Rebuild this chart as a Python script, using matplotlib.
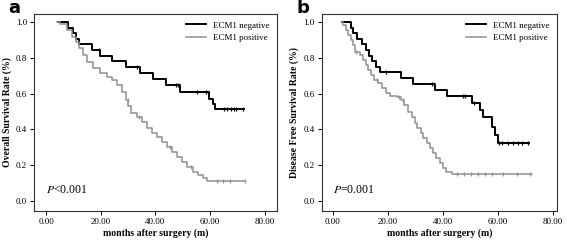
import matplotlib
matplotlib.use("Agg")
import matplotlib.pyplot as plt
import numpy as np

plt.rcParams['font.family'] = ['Liberation Serif', 'DejaVu Serif']
plt.rcParams['mathtext.fontset'] = 'stix'

# panel a: overall survival
a_neg_t = [0, 4.3, 8.1, 9.7, 11.0, 12.2, 16.7, 19.7, 24.0, 29.2, 34.3, 39.0, 43.8, 48.9, 59.7, 60.9, 61.7, 72.5]
a_neg_s = [1.0, 1.0, 0.968, 0.937, 0.906, 0.875, 0.844, 0.812, 0.78, 0.748, 0.716, 0.682, 0.648, 0.608, 0.57, 0.54, 0.512, 0.512]
a_neg_cens = [19.4, 33.1, 47.4, 48.1, 55.0, 58.6, 65.0, 66.2, 67.5, 68.7, 69.4, 71.9]

a_pos_t = [0, 4.1, 5.1, 7.5, 9.4, 11.0, 12.2, 13.6, 15.1, 17.3, 19.7, 22.2, 24.0, 25.8, 27.6, 29.2,
           30.1, 30.9, 33.1, 34.9, 36.8, 38.6, 40.4, 42.3, 44.1, 45.9, 47.7, 49.6, 51.4, 53.6, 55.6,
           57.5, 58.7, 72.7]
a_pos_s = [1.0, 1.0, 0.99, 0.955, 0.918, 0.89, 0.853, 0.816, 0.778, 0.741, 0.713, 0.691, 0.676, 0.648,
           0.61, 0.564, 0.531, 0.49, 0.471, 0.443, 0.406, 0.382, 0.36, 0.331, 0.304, 0.276, 0.248,
           0.22, 0.192, 0.164, 0.145, 0.127, 0.112, 0.112]
a_pos_cens = [29.8, 33.8, 45.2, 52.8, 62.3, 64.5, 67.2, 72.7]

# panel b: disease free survival
b_neg_t = [0, 3.3, 6.7, 7.5, 8.7, 10.5, 12.1, 13.3, 14.4, 15.6, 17.2, 24.7, 29.3, 37.2, 41.5, 50.5,
           53.6, 54.8, 57.8, 59.0, 60.2, 71.5]
b_neg_s = [1.0, 1.0, 0.968, 0.937, 0.905, 0.875, 0.842, 0.81, 0.78, 0.75, 0.72, 0.69, 0.655, 0.62,
           0.585, 0.545, 0.508, 0.468, 0.415, 0.369, 0.326, 0.326]
b_neg_cens = [19.4, 36.2, 47.3, 48.1, 51.4, 60.6, 61.5, 63.9, 65.7, 67.5, 68.7, 71.1]

b_pos_t = [0, 3.3, 3.9, 4.8, 5.7, 6.7, 7.5, 8.1, 9.9, 11.2, 12.1, 13.0, 13.8, 15.0, 16.6, 17.8, 19.4,
           20.8, 23.3, 24.7, 25.9, 27.5, 28.7, 29.9, 30.8, 32.0, 33.0, 34.2, 35.4, 36.6, 37.6, 39.0,
           40.0, 41.2, 43.3, 72.4]
b_pos_s = [1.0, 1.0, 0.983, 0.955, 0.927, 0.9, 0.872, 0.834, 0.816, 0.788, 0.76, 0.732, 0.704, 0.676,
           0.657, 0.629, 0.605, 0.587, 0.579, 0.564, 0.536, 0.499, 0.471, 0.434, 0.406, 0.378, 0.35,
           0.322, 0.294, 0.266, 0.238, 0.21, 0.182, 0.164, 0.151, 0.151]
b_pos_cens = [8.6, 16.0, 24.2, 25.4, 45.1, 47.7, 50.2, 52.9, 55.4, 57.8, 62.0, 66.9, 71.7]

xticks = [0, 20, 40, 60, 80]
yticks = [0.0, 0.2, 0.4, 0.6, 0.8, 1.0]


def level_at(times, levels, x):
    i = np.searchsorted(times, x, side='right') - 1
    return np.array(levels)[i]


def km_panel(ax, neg, pos, xlim, ylabel, ptext, letter):
    for (t, s, c), col, lw, lab in [(neg, 'black', 1.4, 'ECM1 negative'),
                                    (pos, '#909090', 1.1, 'ECM1 positive')]:
        ax.step(t[1:], s[1:], where='post', color=col, lw=lw, label=lab)
        ax.plot(c, level_at(t, s, c), ls='none', marker='|', ms=3.5, mew=0.9, color=col)
    ax.set_xlim(*xlim)
    ax.set_ylim(-0.056, 1.045)
    ax.set_xticks(xticks)
    ax.set_xticklabels(['%.2f' % v for v in xticks], fontsize=6.5)
    ax.set_yticks(yticks)
    ax.set_yticklabels(['%.1f' % v for v in yticks], fontsize=6.5)
    ax.tick_params(length=3, width=0.7, pad=2, top=False, right=False)
    for sp in ax.spines.values():
        sp.set_linewidth(0.8)
        sp.set_color('#333333')
    ax.set_xlabel('months after surgery (m)', fontsize=7, fontweight='bold', labelpad=2)
    ax.set_ylabel(ylabel, fontsize=7, fontweight='bold', labelpad=3)
    ax.legend(loc='upper right', frameon=False, fontsize=6.5, handlelength=2.2,
              borderaxespad=0.4, labelspacing=0.5)
    ax.text(0.05, 0.09, ptext, transform=ax.transAxes, fontsize=8.5)
    ax.figure.text(ax.get_position().x0 - 0.045, 0.965, letter, fontsize=13,
                   fontweight='bold', family='DejaVu Sans', ha='left', va='center')


fig = plt.figure(figsize=(5.67, 2.41), dpi=100)
ax1 = fig.add_axes([0.06, 0.1245, 0.4285, 0.8175])
ax2 = fig.add_axes([0.5674, 0.1245, 0.4145, 0.8175])

km_panel(ax1, (a_neg_t, a_neg_s, a_neg_cens), (a_pos_t, a_pos_s, a_pos_cens), (-4.4, 84.4),
         'Overall Survival Rate (%)', r'$P$<0.001', 'a')
km_panel(ax2, (b_neg_t, b_neg_s, b_neg_cens), (b_pos_t, b_pos_s, b_pos_cens), (-4.0, 81.5),
         'Disease Free Survival Rate (%)', r'$P$=0.001', 'b')

fig.savefig('out.png', dpi=100)
